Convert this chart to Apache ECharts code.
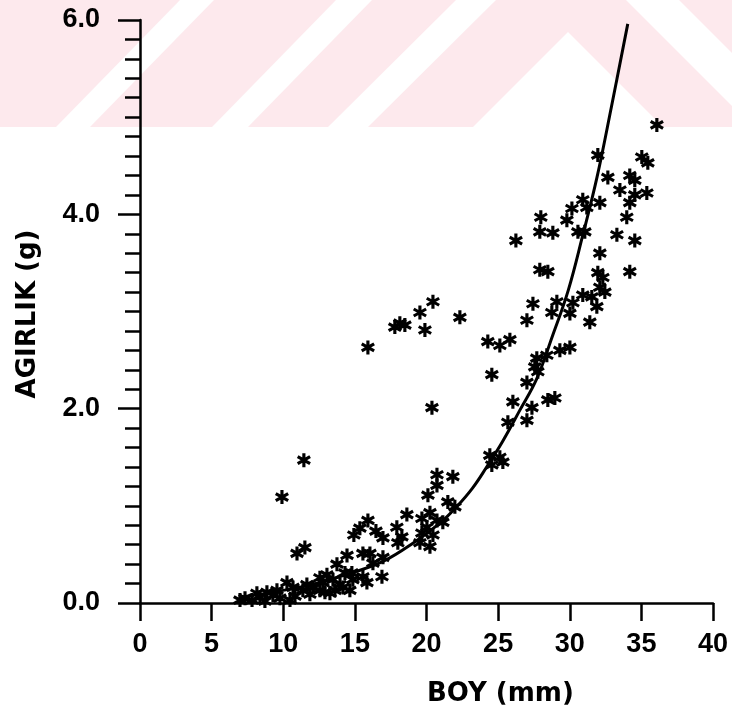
<!DOCTYPE html>
<html>
<head>
<meta charset="utf-8">
<script src="https://cdn.jsdelivr.net/npm/echarts@6/dist/echarts.min.js"></script>
<style>
html,body{margin:0;padding:0;background:#fff;}
#chart{width:732px;height:716px;}
</style>
</head>
<body>
<div id="chart"></div>
<script>
// Observations: length (BOY, mm) and weight (AGIRLIK, g)
const boy = [36.08,35.03,35.45,31.96,32.66,34.19,34.54,33.50,35.38,34.54,34.19,33.98,30.91,30.15,31.19,32.10,29.80,30.57,31.05,33.29,34.54,27.98,27.91,28.82,26.24,32.10,31.96,32.31,34.19,27.91,28.47,32.10,32.45,30.91,31.54,29.10,27.43,30.22,27.01,28.75,30.01,31.89,31.40,
  24.28,25.12,25.82,27.70,28.40,29.31,30.01,27.77,24.56,27.01,26.03,27.36,28.47,28.96,25.68,27.01,24.42,25.12,25.33,24.56,27.56,
  15.91,17.79,18.14,18.49,19.54,20.45,19.89,22.33,20.38,11.44,9.91,10.96,11.51,
  20.73,20.73,21.84,20.10,21.49,21.98,18.63,20.24,20.73,19.68,20.03,21.14,17.93,18.28,18.00,19.54,20.24,20.45,19.68,
  15.91,15.35,14.93,16.47,16.96,15.56,16.05,16.96,14.45,13.75,14.79,15.56,16.89,13.47,14.17,13.26,14.31,13.05,
  12.56,11.65,10.68,10.26,9.56,8.86,8.16,7.33,6.98,7.82,8.37,9.28,11.37,12.07,12.77,14.86,16.26,15.84,14.65,13.61,
  8.72,9.77,10.82,11.86,12.91,10.47,12.56,13.96];
const agirlik = [4.92,4.59,4.53,4.61,4.38,4.40,4.35,4.25,4.22,4.20,4.12,3.97,4.15,4.06,4.07,4.12,3.94,3.82,3.82,3.79,3.73,3.97,3.82,3.81,3.73,3.60,3.40,3.35,3.41,3.43,3.41,3.25,3.20,3.17,3.15,3.10,3.08,3.09,2.91,2.99,2.98,3.05,2.89,
  2.69,2.65,2.71,2.52,2.55,2.60,2.63,2.38,2.35,2.27,2.07,2.01,2.09,2.11,1.86,1.88,1.52,1.50,1.45,1.42,2.43,
  2.63,2.84,2.88,2.86,2.99,3.10,2.81,2.94,2.01,1.47,1.09,0.51,0.57,
  1.32,1.21,1.30,1.11,1.04,0.99,0.91,0.93,0.85,0.87,0.78,0.83,0.78,0.68,0.62,0.62,0.58,0.70,0.72,
  0.85,0.77,0.70,0.74,0.67,0.51,0.51,0.47,0.49,0.40,0.31,0.27,0.27,0.24,0.16,0.10,0.31,0.29,
  0.26,0.19,0.16,0.21,0.13,0.11,0.10,0.05,0.03,0.03,0.06,0.08,0.13,0.16,0.21,0.24,0.41,0.21,0.13,0.13,
  0.02,0.05,0.07,0.09,0.11,0.03,0.13,0.19];

// Fitted curve
const curveBoy     = [7, 10, 12.5, 15, 17, 19, 21, 22.1, 23.2, 24.2, 25.3, 26.5, 27.7, 28.8, 29.9, 30.9, 31.9, 32.9, 34.05];
const curveAgirlik = [0.06, 0.13, 0.21, 0.32, 0.43, 0.61, 0.83, 0.99, 1.18, 1.40, 1.66, 1.98, 2.31, 2.75, 3.22, 3.78, 4.38, 5.10, 5.96];

const xTickLabels = ['0','5','10','15','20','25','30','35','40'];
const yTickLabels = ['0.0','2.0','4.0','6.0'];

const xTitle = 'BOY (mm)';
const yTitle = 'AGIRLIK (g)';

const asterisk = 'path://M39 0 L61 0 L61 100 L39 100 Z M12.2 15.5 L98.8 65.5 L87.8 84.5 L1.2 34.5 Z M98.8 34.5 L12.2 84.5 L1.2 65.5 L87.8 15.5 Z';

const pink = '#fde9ed';
const wm = [
  {type:'rect', shape:{x:0,y:0,width:732,height:127}, style:{fill:pink}},
  {type:'polygon', shape:{points:[[56,127],[90,127],[214,0],[180,0]]}, style:{fill:'#fff'}},
  {type:'polygon', shape:{points:[[212,127],[248,127],[372,0],[336,0]]}, style:{fill:'#fff'}},
  {type:'polygon', shape:{points:[[328,127],[368,127],[496,0],[456,0]]}, style:{fill:'#fff'}},
  {type:'polygon', shape:{points:[[473,127],[568,32],[663,127]]}, style:{fill:'#fff'}},
  {type:'polygon', shape:{points:[[626,0],[679,0],[806,127],[753,127]]}, style:{fill:'#fff'}}
].map(e => Object.assign(e, {z:-100, silent:true}));

const chart = echarts.init(document.getElementById('chart'), null, {renderer:'canvas'});
const tickFont = 'Liberation Sans';
chart.setOption({
  backgroundColor: '#fff',
  animation: false,
  grid: {left:140, top:20, right:19, bottom:113, containLabel:false, outerBoundsMode:'none'},
  graphic: [
    ...wm,
    {type:'text', left:427, top:681, z:10, style:{text:xTitle, font:'bold 26px "DejaVu Sans"', fill:'#000'}},
    {type:'text', x:28, y:314, rotation:Math.PI/2, z:10,
     style:{text:yTitle, font:'bold 26px "DejaVu Sans"', fill:'#000', align:'center', verticalAlign:'middle'}}
  ],
  xAxis: {
    type:'value', min:0, max:40, interval:5,
    splitLine:{show:false},
    axisLine:{show:true, onZero:false, lineStyle:{color:'#000', width:2.5}},
    axisTick:{show:true, length:18, lineStyle:{color:'#000', width:2.5}},
    axisLabel:{margin:28, color:'#000', fontSize:27, fontWeight:'bold', fontFamily:tickFont,
      formatter:(v)=> xTickLabels[Math.round(v/5)]}
  },
  yAxis: {
    type:'value', min:0, max:6, interval:2,
    splitLine:{show:false},
    axisLine:{show:true, onZero:false, lineStyle:{color:'#000', width:2.5}},
    axisTick:{show:true, length:22, lineStyle:{color:'#000', width:2.5}},
    minorTick:{show:true, splitNumber:10, length:15, lineStyle:{color:'#000', width:2.5}},
    minorSplitLine:{show:false},
    axisLabel:{margin:40, color:'#000', fontSize:27, fontWeight:'bold', fontFamily:tickFont,
      formatter:(v)=> yTickLabels[Math.round(v/2)]}
  },
  series: [
    {
      type:'scatter',
      data: boy.map((b,i)=>[b, agirlik[i]]),
      symbol: asterisk,
      symbolSize: 14,
      itemStyle:{color:'#000', opacity:1},
      z:3
    },
    {
      type:'line',
      data: curveBoy.map((b,i)=>[b, curveAgirlik[i]]),
      smooth: 0.4,
      showSymbol:false,
      symbol:'none',
      lineStyle:{color:'#000', width:3},
      z:4
    }
  ]
});
</script>
</body>
</html>
